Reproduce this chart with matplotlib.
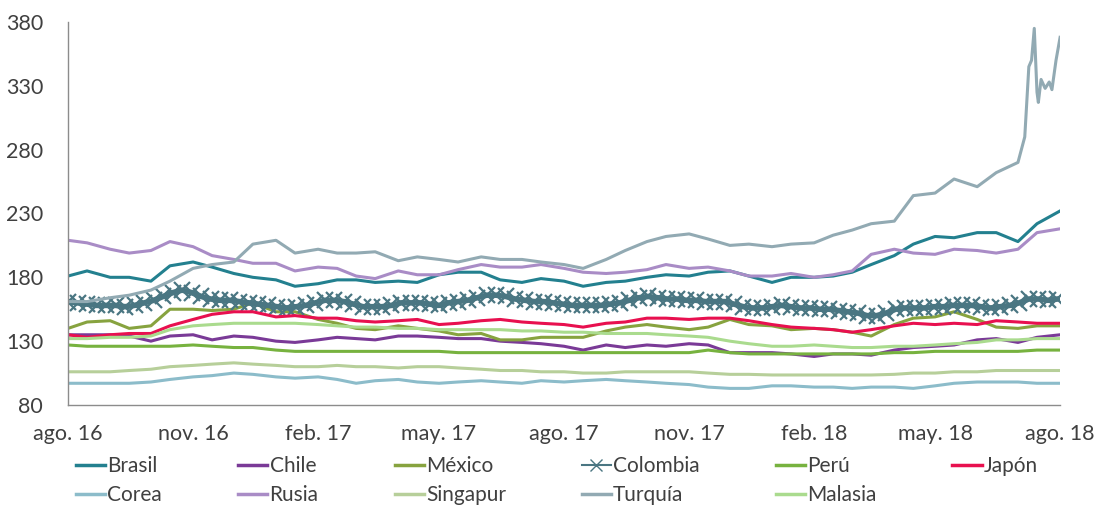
import matplotlib
matplotlib.use("Agg")
import matplotlib.pyplot as plt
import pandas as pd

# fechas quincenales (ago. 2016 - ago. 2018)
dates = pd.date_range("2016-08-01", "2018-08-01", freq="SMS")

brasil = [181, 185, 180, 180, 177, 189, 192, 188, 183, 180, 178, 173, 175, 178, 178, 176,
          177, 176, 182, 184, 184, 178, 176, 179, 177, 173, 176, 177, 180, 182, 181, 184,
          185, 181, 176, 180, 180, 181, 184, 190, 197, 206, 212, 211, 215, 215, 208, 222, 232]
chile = [135, 135, 135, 134, 130, 134, 135, 131, 134, 133, 130, 129, 131, 133, 132, 131,
         134, 134, 133, 132, 132, 130, 129, 128, 126, 123, 127, 125, 127, 126, 128, 127,
         121, 121, 121, 120, 118, 120, 120, 119, 123, 125, 126, 127, 131, 132, 129, 133, 135]
mexico = [140, 145, 146, 140, 142, 155, 155, 154, 155, 160, 153, 153, 147, 144, 140, 139,
          142, 140, 138, 135, 136, 131, 131, 133, 133, 133, 138, 141, 143, 141, 139, 141,
          147, 143, 142, 139, 140, 139, 137, 134, 143, 148, 149, 153, 147, 141, 140, 142, 142]
peru = [127, 126, 126, 126, 126, 126, 127, 126, 125, 125, 123, 122, 122, 122, 122, 122,
        122, 122, 122, 121, 121, 121, 121, 121, 121, 121, 121, 121, 121, 121, 121, 123,
        121, 120, 120, 120, 120, 120, 120, 120, 121, 121, 122, 122, 122, 122, 122, 123, 123]
japon = [135, 133, 135, 136, 136, 142, 147, 151, 153, 153, 149, 150, 148, 148, 146, 145,
         146, 147, 143, 144, 146, 147, 145, 144, 143, 141, 144, 145, 148, 148, 147, 148,
         148, 146, 143, 141, 140, 139, 137, 139, 142, 144, 143, 144, 143, 146, 145, 144, 144]
corea = [97, 97, 97, 97, 98, 100, 102, 103, 105, 104, 102, 101, 102, 100, 97, 99,
         100, 98, 97, 98, 99, 98, 97, 99, 98, 99, 100, 99, 98, 97, 96, 94,
         93, 93, 95, 95, 94, 94, 93, 94, 94, 93, 95, 97, 98, 98, 98, 97, 97]
rusia = [209, 207, 202, 199, 201, 208, 204, 197, 194, 191, 191, 185, 188, 187, 181, 179,
         185, 182, 182, 186, 190, 188, 188, 190, 187, 184, 183, 184, 186, 190, 187, 188,
         185, 181, 181, 183, 180, 182, 185, 198, 202, 199, 198, 202, 201, 199, 202, 215, 218]
singapur = [106, 106, 106, 107, 108, 110, 111, 112, 113, 112, 111, 110, 110, 111, 110, 110,
            109, 110, 110, 109, 108, 107, 107, 106, 106, 105, 105, 106, 106, 106, 106, 105,
            104, 104, 103.5, 103.5, 103.5, 103.5, 103.5, 103.5, 104, 105, 105, 106, 106, 107, 107, 107, 107]
malasia = [132, 132, 133, 133, 134, 139, 142, 143, 144, 144, 144, 144, 143, 142, 141, 141,
           140, 140, 139, 139, 139, 139, 138, 138, 137, 137, 136, 136, 136, 135, 134, 133,
           130, 128, 126, 126, 127, 126, 125, 125, 126, 126, 127, 128, 129, 131, 131, 132, 132]

# Turquía: quincenal hasta jul. 2018 y diaria en el repunte final
turquia = [161, 161, 164, 166, 170, 177, 187, 190, 192, 206, 209, 199, 202, 199, 199, 200,
           193, 196, 194, 192, 196, 194, 194, 192, 190, 187, 194, 201, 208, 212, 214, 210,
           205, 206, 204, 206, 207, 213, 217, 222, 224, 244, 246, 257, 251, 262, 270,
           290, 345, 350, 375, 325, 317, 335, 328, 333, 327, 350, 368]
turquia_tail = ["2018-07-06", "2018-07-09", "2018-07-11", "2018-07-13", "2018-07-15", "2018-07-16",
                "2018-07-18", "2018-07-21", "2018-07-24", "2018-07-26", "2018-07-29", "2018-08-01"]
turquia_dates = list(dates[:47]) + list(pd.to_datetime(turquia_tail))

# Colombia: semanal
colombia = [161, 160, 159, 158, 158, 158, 157, 158, 160, 162, 165, 168, 170, 168, 165, 163,
            162, 162, 161, 160, 159, 158, 157, 156, 157, 158, 160, 162, 162, 161, 159, 157,
            157, 157, 158, 160, 160, 160, 159, 158, 160, 161, 162, 164, 166, 166, 165, 163,
            162, 161, 161, 160, 159, 158, 158, 158, 158, 159, 160, 162, 164, 165, 164, 163,
            163, 162, 162, 161, 161, 161, 159, 157, 156, 156, 157, 158, 157, 156, 156, 155,
            155, 154, 153, 152, 150, 150, 152, 155, 156, 156, 156, 157, 157, 158, 158, 158,
            157, 156, 157, 158, 160, 163, 163, 162, 163]
colombia_dates = pd.date_range("2016-08-01", periods=len(colombia), freq="7D")

tick_dates = pd.to_datetime(["2016-08-01", "2016-11-01", "2017-02-01", "2017-05-01", "2017-08-01",
                             "2017-11-01", "2018-02-01", "2018-05-01", "2018-08-01"])
tick_labels = ["ago. 16", "nov. 16", "feb. 17", "may. 17", "ago. 17",
               "nov. 17", "feb. 18", "may. 18", "ago. 18"]

plt.rcParams["font.family"] = ["Lato", "DejaVu Sans"]
text_color = "#404040"

fig = plt.figure(figsize=(11.03, 5.08), dpi=100)
ax = fig.add_axes([0.0617, 0.2028, 0.8994, 0.7539])

lw = 2.2
h = {}
h["Brasil"], = ax.plot(dates, brasil, color="#23808F", lw=lw)
h["Chile"], = ax.plot(dates, chile, color="#7A3A97", lw=lw)
h["México"], = ax.plot(dates, mexico, color="#87A33F", lw=lw)
h["Colombia"], = ax.plot(colombia_dates, colombia, color="#4A7682", lw=4,
                         marker="x", markersize=12, markeredgewidth=1.6)
h["Perú"], = ax.plot(dates, peru, color="#77B23F", lw=lw)
h["Japón"], = ax.plot(dates, japon, color="#E8104F", lw=lw)
h["Corea"], = ax.plot(dates, corea, color="#8CBCCA", lw=lw)
h["Rusia"], = ax.plot(dates, rusia, color="#A98CC6", lw=lw)
h["Singapur"], = ax.plot(dates, singapur, color="#B7CF9A", lw=lw)
h["Turquía"], = ax.plot(turquia_dates, turquia, color="#92AAB3", lw=lw)
h["Malasia"], = ax.plot(dates, malasia, color="#AADB8E", lw=lw)

ax.set_xlim(tick_dates[0], tick_dates[-1])
ax.set_ylim(80, 380)
ax.set_yticks(range(80, 381, 50))
ax.set_xticks(tick_dates)
ax.set_xticklabels(tick_labels)
ax.tick_params(axis="both", length=0, labelsize=15.5, colors=text_color)
ax.tick_params(axis="y", pad=18)
ax.tick_params(axis="x", pad=14)
for s in ["top", "right"]:
    ax.spines[s].set_visible(False)
for s in ["left", "bottom"]:
    ax.spines[s].set_color("#8C8C8C")
    ax.spines[s].set_linewidth(1.0)

# orden para que la leyenda se lea por filas
order = ["Brasil", "Corea", "Chile", "Rusia", "México", "Singapur",
         "Colombia", "Turquía", "Perú", "Malasia", "Japón"]
leg = fig.legend([h[k] for k in order], order, loc="center", bbox_to_anchor=(0.505, 0.054),
                 ncol=6, frameon=False, fontsize=15, handlelength=1.4, handletextpad=0.1,
                 columnspacing=3.65, labelspacing=0.45, borderpad=0)
for t in leg.get_texts():
    t.set_color(text_color)
for name, lh in zip(order, leg.legend_handles):
    lh.set_linewidth(1.5 if name == "Colombia" else 2.5)
    lh.set_markersize(8)
    lh.set_markeredgewidth(1.0)

fig.savefig("out.png", dpi=100)
